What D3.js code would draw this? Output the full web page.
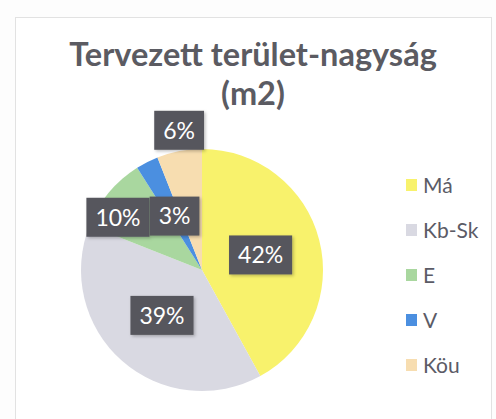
<!DOCTYPE html>
<html>
<head>
    <meta charset="utf-8">
    <title>Tervezett terület-nagyság</title>
    <script src="https://d3js.org/d3.v7.min.js"></script>
    <style>
        body { margin: 0; background: #fdfdfd; }
        text { font-family: Lato, "Open Sans", sans-serif; }
    </style>
</head>
<body>
    <svg id="chart"></svg>

    <script>
        // chart data
        const categories = ['Má', 'Kb-Sk', 'E', 'V', 'Köu'];
        const shares = [42, 39, 10, 3, 6];
        const labels = ['42%', '39%', '10%', '3%', '6%'];
        const colors = ['#f8f26c', '#d9d9e2', '#a9d79f', '#4b8fe0', '#f7ddb0'];
        const titleLines = ['Tervezett terület-nagyság', '(m2)'];

        const width = 496;
        const height = 419;

        const svg = d3.select('#chart')
            .attr('width', width)
            .attr('height', height);

        // faint frame of the scanned chart area
        svg.append('rect')
            .attr('x', 15.5).attr('y', 17.5)
            .attr('width', 476).attr('height', 420)
            .attr('fill', '#fff')
            .attr('stroke', '#e2e2e2');

        // title
        svg.append('g')
            .selectAll('text')
            .data(titleLines)
            .enter()
            .append('text')
            .attr('x', 253)
            .attr('y', (d, i) => 66 + i * 39)
            .attr('text-anchor', 'middle')
            .attr('font-size', 32.5)
            .attr('font-weight', 'bold')
            .attr('fill', '#5b5b62')
            .text(d => d);

        // pie
        const cx = 202, cy = 270, r = 121;
        const pie = d3.pie().sort(null).value(d => d)(shares);
        const arc = d3.arc().innerRadius(0).outerRadius(r);

        const g = svg.append('g').attr('transform', `translate(${cx},${cy})`);

        g.selectAll('path')
            .data(pie)
            .enter()
            .append('path')
            .attr('d', arc)
            .attr('fill', (d, i) => colors[i]);

        // where excel put the labels (fraction of radius, angle shift in degrees)
        const labelPlace = { 'E': [0.82, -7.5], 'Köu': [1.17, 1.5] };

        const shadow = svg.append('defs').append('filter')
            .attr('id', 'shadow')
            .attr('x', '-20%').attr('y', '-20%')
            .attr('width', '140%').attr('height', '140%');
        shadow.append('feDropShadow')
            .attr('dx', 1.5).attr('dy', 1.5)
            .attr('stdDeviation', 1.5)
            .attr('flood-color', '#000')
            .attr('flood-opacity', 0.25);

        const lab = g.selectAll('.lab')
            .data(pie)
            .enter()
            .append('g')
            .attr('class', 'lab')
            .attr('transform', (d, i) => {
                const p = labelPlace[categories[i]] || [0.5, 0];
                const a = (d.startAngle + d.endAngle) / 2 + p[1] * Math.PI / 180;
                return `translate(${Math.sin(a) * r * p[0]},${-Math.cos(a) * r * p[0]})`;
            });

        lab.append('text')
            .attr('text-anchor', 'middle')
            .attr('dy', '0.36em')
            .attr('font-size', 23)
            .attr('fill', '#fff')
            .text((d, i) => labels[i]);

        lab.insert('rect', 'text')
            .each(function () {
                const w = this.parentNode.querySelector('text').getComputedTextLength() + 18;
                d3.select(this)
                    .attr('x', -w / 2).attr('y', -19.5)
                    .attr('width', w).attr('height', 39);
            })
            .attr('fill', '#56565d')
            .attr('filter', 'url(#shadow)');

        // legend
        const legend = svg.append('g')
            .selectAll('g')
            .data(categories)
            .enter()
            .append('g')
            .attr('transform', (d, i) => `translate(406,${185 + i * 45})`);

        legend.append('rect')
            .attr('x', 0).attr('y', -6)
            .attr('width', 11).attr('height', 12)
            .attr('fill', (d, i) => colors[i]);

        legend.append('text')
            .attr('x', 17)
            .attr('dy', '0.36em')
            .attr('font-size', 21)
            .attr('fill', '#5b5b66')
            .text(d => d);
    </script>
</body>
</html>
